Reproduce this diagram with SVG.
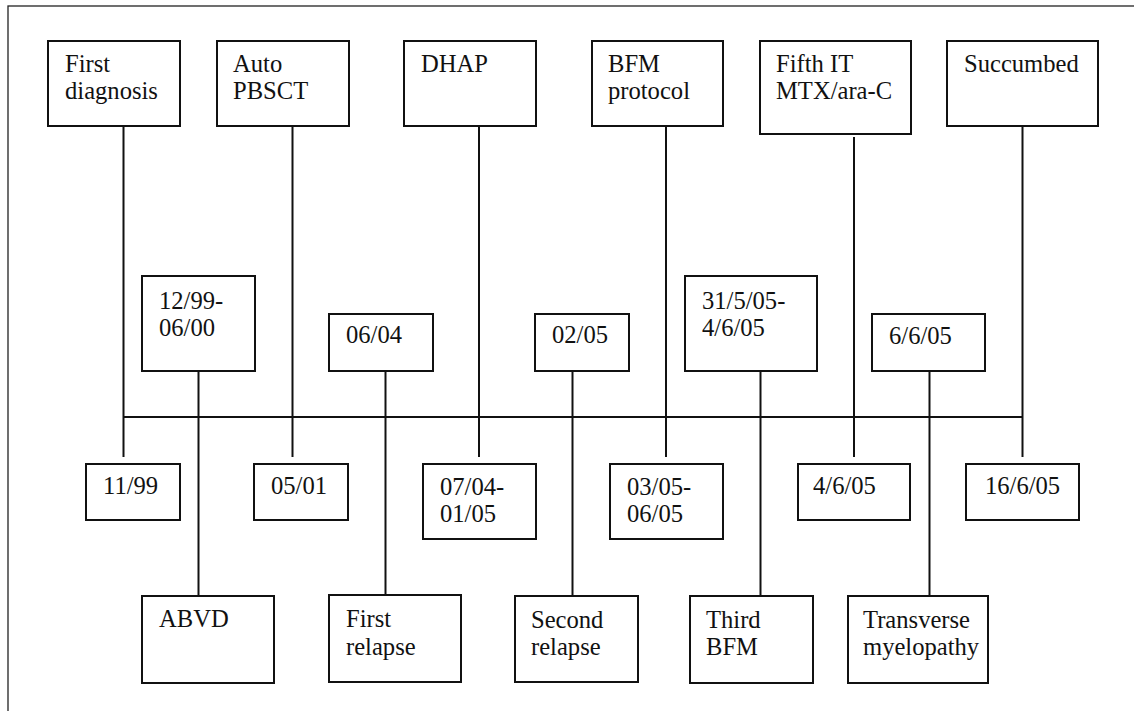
<svg xmlns="http://www.w3.org/2000/svg" width="1134" height="711" viewBox="0 0 1134 711">
<style>
.b{fill:#fff;stroke:#111;stroke-width:2}
.c line{stroke:#111;stroke-width:2}
text{font-family:"Liberation Serif","Times New Roman",serif;font-size:24.6px;fill:#111}
</style>
<rect x="0" y="0" width="1134" height="711" fill="#fff"/>
<rect x="8" y="6" width="1140" height="720" fill="none" stroke="#222" stroke-width="1.3"/>
<g id="connectors" class="c">
<line x1="123.5" y1="417" x2="1022.5" y2="417"/>
<line x1="123.5" y1="126" x2="123.5" y2="457"/>
<line x1="292.5" y1="126" x2="292.5" y2="457"/>
<line x1="479" y1="126" x2="479" y2="457"/>
<line x1="666" y1="126" x2="666" y2="457"/>
<line x1="854" y1="137" x2="854" y2="457"/>
<line x1="1022.5" y1="126" x2="1022.5" y2="457"/>
<line x1="198.5" y1="371" x2="198.5" y2="596"/>
<line x1="385.5" y1="371" x2="385.5" y2="595"/>
<line x1="572.5" y1="371" x2="572.5" y2="596"/>
<line x1="760.5" y1="371" x2="760.5" y2="596"/>
<line x1="929.5" y1="371" x2="929.5" y2="596"/>
</g>
<g id="n_first_diagnosis"><rect class="b" x="48" y="41" width="132" height="85"/><text x="65" y="72">First</text><text x="65" y="99">diagnosis</text></g>
<g id="n_auto_pbsct"><rect class="b" x="217" y="41" width="132" height="85"/><text x="233" y="72">Auto</text><text x="233" y="99">PBSCT</text></g>
<g id="n_dhap"><rect class="b" x="404" y="41" width="132" height="85"/><text x="421" y="72">DHAP</text></g>
<g id="n_bfm_protocol"><rect class="b" x="592" y="41" width="131" height="85"/><text x="608" y="72">BFM</text><text x="608" y="99">protocol</text></g>
<g id="n_fifth_it"><rect class="b" x="760" y="41" width="151" height="93"/><text x="776" y="72">Fifth IT</text><text x="776" y="99">MTX/ara-C</text></g>
<g id="n_succumbed"><rect class="b" x="947" y="41" width="151" height="85"/><text x="964" y="72">Succumbed</text></g>
<g id="n_1299"><rect class="b" x="142" y="276" width="113" height="95"/><text x="159" y="309">12/99-</text><text x="159" y="336">06/00</text></g>
<g id="n_0604"><rect class="b" x="329" y="314" width="104" height="57"/><text x="346" y="343">06/04</text></g>
<g id="n_0205"><rect class="b" x="535" y="314" width="94" height="57"/><text x="552" y="343">02/05</text></g>
<g id="n_31505"><rect class="b" x="685" y="276" width="132" height="95"/><text x="702" y="309">31/5/05-</text><text x="702" y="336">4/6/05</text></g>
<g id="n_6605"><rect class="b" x="872" y="314" width="113" height="57"/><text x="889" y="344">6/6/05</text></g>
<g id="n_1199"><rect class="b" x="86" y="464" width="94" height="56"/><text x="103" y="494">11/99</text></g>
<g id="n_0501"><rect class="b" x="254" y="464" width="94" height="56"/><text x="271" y="494">05/01</text></g>
<g id="n_0704"><rect class="b" x="423" y="464" width="113" height="75"/><text x="440" y="495">07/04-</text><text x="440" y="522">01/05</text></g>
<g id="n_0305"><rect class="b" x="610" y="464" width="113" height="75"/><text x="627" y="495">03/05-</text><text x="627" y="522">06/05</text></g>
<g id="n_4605"><rect class="b" x="798" y="464" width="112" height="56"/><text x="813" y="494">4/6/05</text></g>
<g id="n_16605"><rect class="b" x="966" y="464" width="113" height="56"/><text x="985" y="494">16/6/05</text></g>
<g id="n_abvd"><rect class="b" x="142" y="596" width="132" height="87"/><text x="159" y="627">ABVD</text></g>
<g id="n_first_relapse"><rect class="b" x="329" y="595" width="132" height="87"/><text x="346" y="627">First</text><text x="346" y="655">relapse</text></g>
<g id="n_second_relapse"><rect class="b" x="515" y="596" width="123" height="86"/><text x="531" y="628">Second</text><text x="531" y="655">relapse</text></g>
<g id="n_third_bfm"><rect class="b" x="690" y="596" width="123" height="87"/><text x="706" y="628">Third</text><text x="706" y="655">BFM</text></g>
<g id="n_transverse"><rect class="b" x="848" y="596" width="140" height="87"/><text x="863" y="628">Transverse</text><text x="863" y="655">myelopathy</text></g>
</svg>
